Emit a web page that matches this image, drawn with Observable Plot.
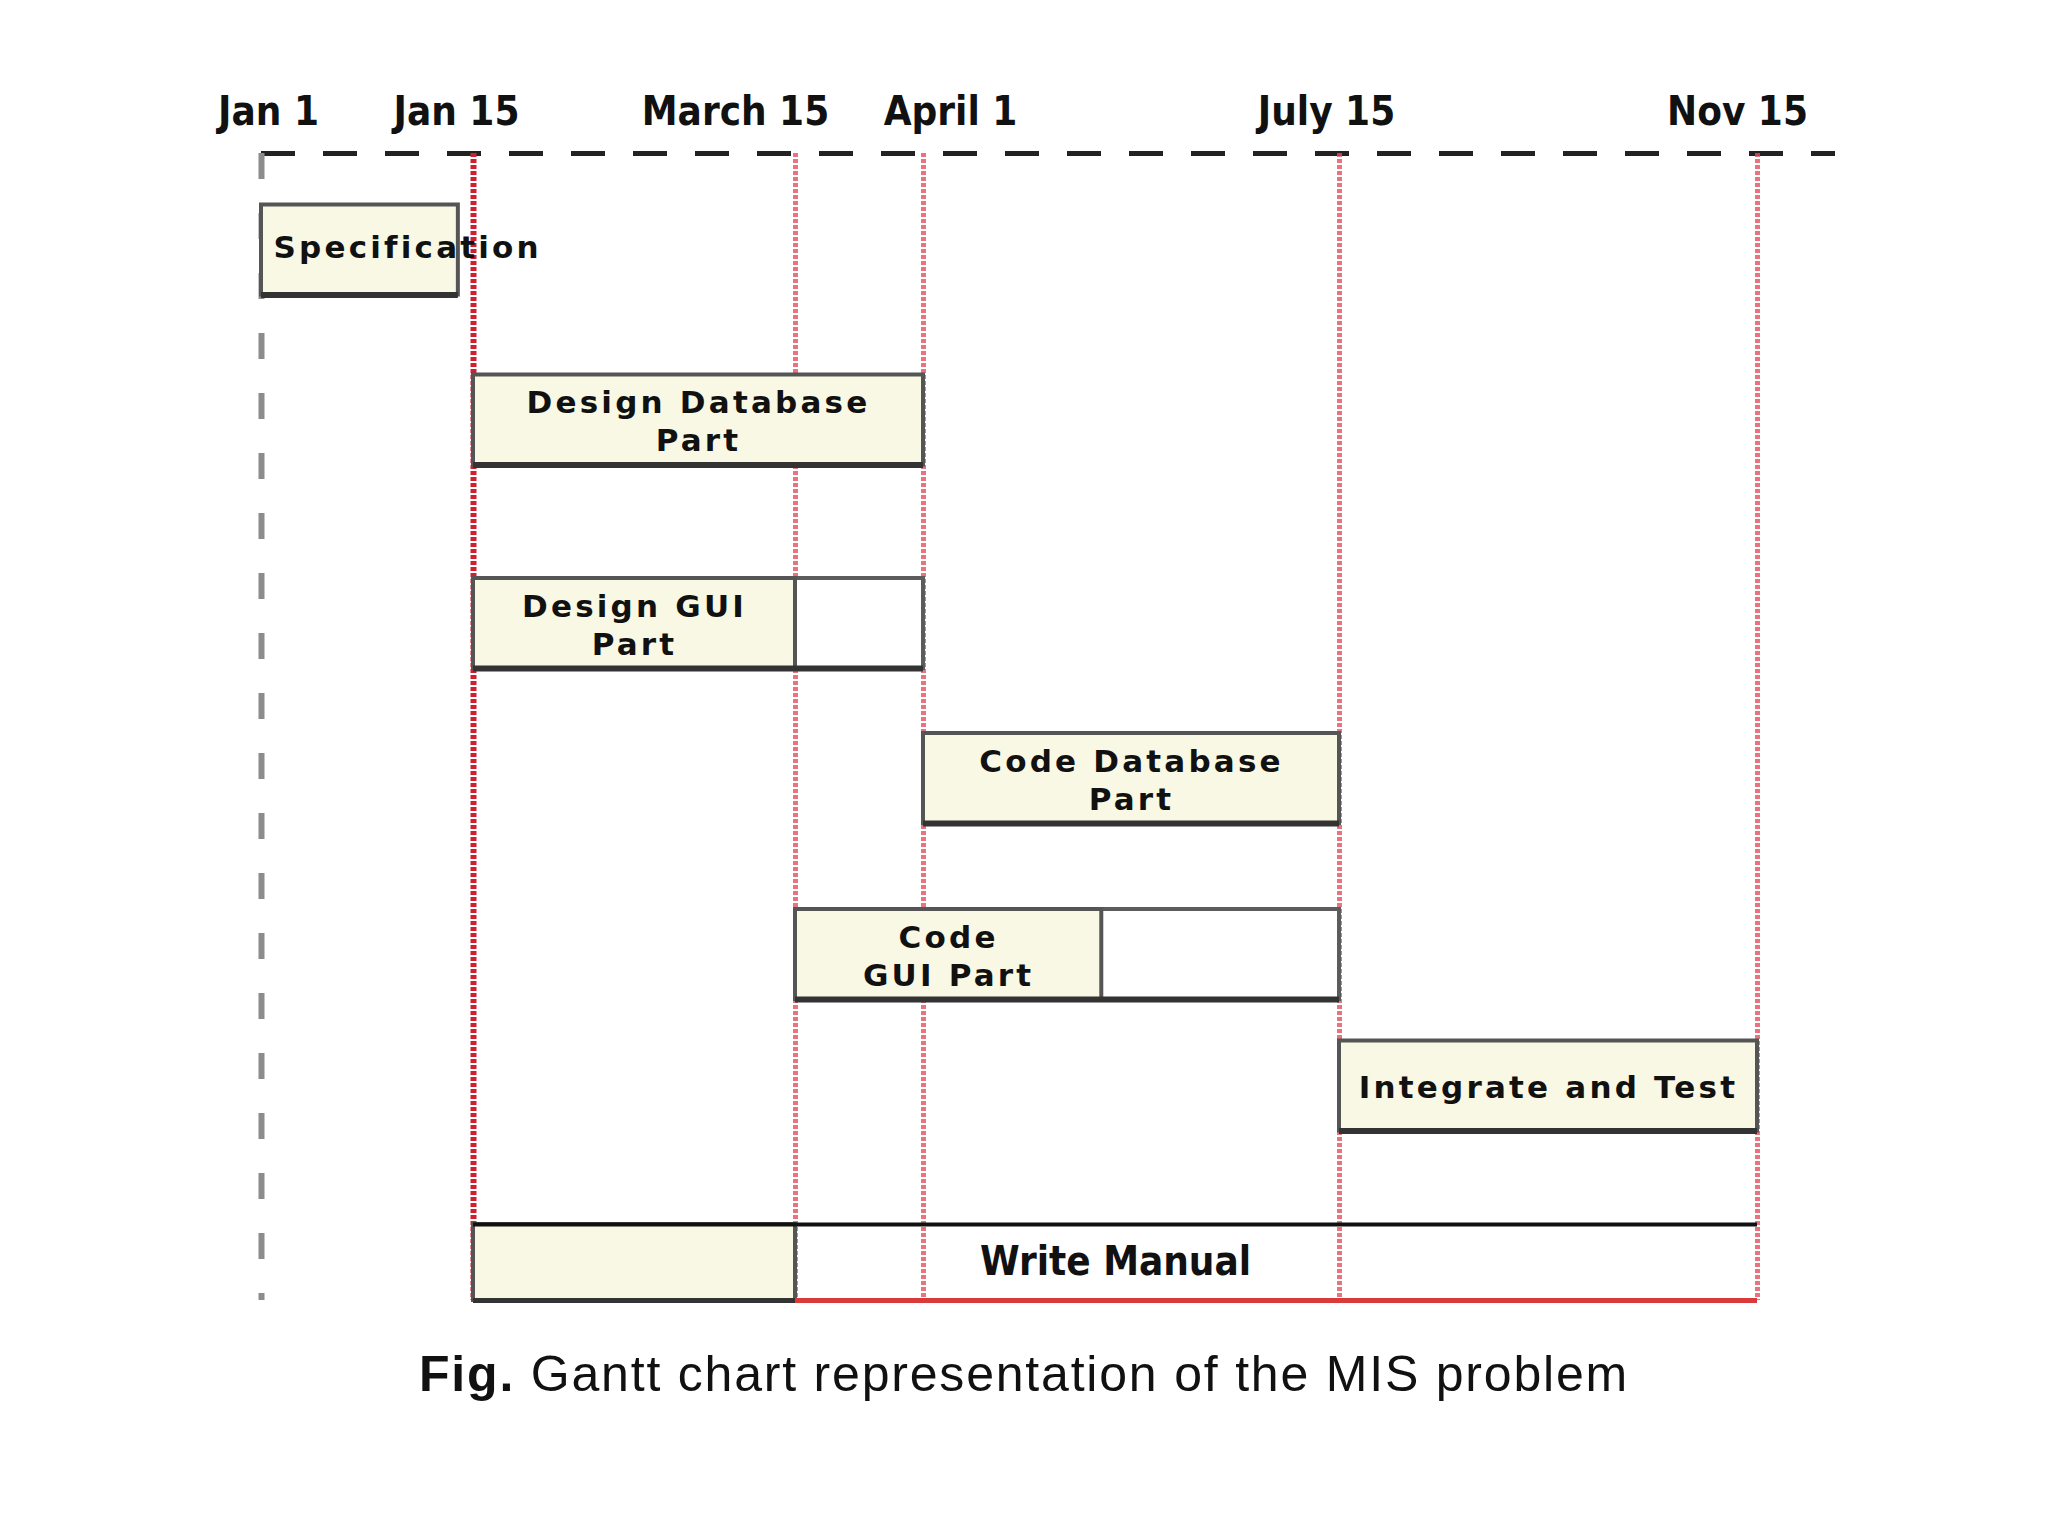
<!DOCTYPE html>
<html><head><meta charset="utf-8">
<script src="https://cdn.jsdelivr.net/npm/d3@7"></script>
<script src="https://cdn.jsdelivr.net/npm/@observablehq/plot@0.6"></script>
<style>
html,body{margin:0;padding:0;background:#fff;}
#chart{width:2048px;}
#chart svg{display:block;}
.caption{font-family:"Liberation Sans",Arial,sans-serif;font-size:50px;letter-spacing:1.8px;line-height:60px;text-align:center;margin-top:14px;color:#111;}
</style></head><body>
<div id="chart"></div>
<div class="caption"><b>Fig.</b> Gantt chart representation of the MIS problem</div>
<script>
// ---- data ----
const milestoneDates = ["2000-01-01","2000-01-15","2000-03-15","2000-04-01","2000-07-15","2000-11-15"];
const milestoneLabels = ["Jan 1","Jan 15","March 15","April 1","July 15","Nov 15"];
const taskNames = ["Specification","Design Database Part","Design GUI Part","Code Database Part","Code GUI Part","Integrate and Test","Write Manual"];
const taskLabels = ["Specification","Design Database\nPart","Design GUI\nPart","Code Database\nPart","Code\nGUI Part","Integrate and Test","Write Manual"];
const taskStart = ["2000-01-01","2000-01-15","2000-01-15","2000-04-01","2000-03-15","2000-07-15","2000-01-15"];
const taskDone  = ["2000-01-14","2000-04-01","2000-03-15","2000-07-15","2000-05-16","2000-11-15","2000-03-15"];
const taskEnd   = ["2000-01-14","2000-04-01","2000-04-01","2000-07-15","2000-07-15","2000-11-15","2000-11-15"];

// ---- layout (scale ranges and label nudges, in pixels) ----
const milestoneX = [261, 473, 795, 923, 1339, 1757];
const tickLabelNudge = [7, -17, -60, 27, -13, -20];
const rowY = [153, 249.5, 419.5, 623, 778, 954, 1085.5, 1262];

const parse = d3.utcParse("%Y-%m-%d");
const milestones = milestoneDates.map(parse);
const xs = Plot.scale({x: {type: "utc", domain: milestones, range: milestoneX}});
const midDate = (a, b) => xs.invert((xs.apply(a) + xs.apply(b)) / 2);

const ticks = milestones.map((d, i) => ({date: d, label: milestoneLabels[i],
  labelX: xs.invert(xs.apply(d) + tickLabelNudge[i])}));

const tasks = taskNames.map((name, i) => {
  const start = parse(taskStart[i]), done = parse(taskDone[i]), end = parse(taskEnd[i]);
  return {name, label: taskLabels[i], row: i + 1, start, done, end,
    labelX: name === "Write Manual" ? midDate(start, end) : midDate(start, done)};
});
const wm = tasks.filter(d => d.name === "Write Manual");
const bars = tasks.filter(d => d.name !== "Write Manual");
const partial = bars.filter(d => +d.done !== +d.end);
const spec = tasks.filter(d => d.name === "Specification");
const centered = bars.filter(d => d.name !== "Specification");

const cream = "#f8f8e4";
const labelFont = {fontFamily: "DejaVu Sans", fontWeight: "bold", fontSize: 31, lineHeight: 1.23, fill: "#111"};
const condFont = {fontFamily: "DejaVu Sans Condensed", fontWeight: "bold", fontSize: 40, fill: "#111"};

const chart = Plot.plot({
  width: 2048,
  height: 1330,
  marginTop: 153,
  marginBottom: 30,
  marginLeft: 261,
  marginRight: 213,
  style: "background: #fff;",
  x: {type: "utc", domain: milestones, range: milestoneX, axis: null},
  y: {type: "linear", domain: d3.range(rowY.length), range: rowY, axis: null},
  marks: [
    // top time axis
    Plot.text(ticks, {x: "labelX", text: "label", frameAnchor: "top", dy: -41, lineAnchor: "middle", ...condFont}),
    Plot.ruleY([0], {stroke: "#222", strokeWidth: 5, strokeDasharray: "34,28"}),
    Plot.ruleX([milestones[0]], {stroke: "#8c8c8c", strokeWidth: 6, strokeDasharray: "26,34"}),
    Plot.ruleX(milestones.slice(2), {stroke: "#e4505e", strokeOpacity: 0.8, strokeWidth: 5, strokeDasharray: "4,2"}),
    Plot.ruleX([milestones[1]], {stroke: "#d21f30", strokeWidth: 6, strokeDasharray: "4,2"}),
    // unfinished windows
    Plot.rect(partial, {x1: "start", x2: "end", y1: "row", y2: "row", insetTop: -45, insetBottom: -45,
      fill: "white", stroke: "#5c5c5c", strokeWidth: 4}),
    // work bars
    Plot.rect(bars, {x1: "start", x2: "done", y1: "row", y2: "row", insetTop: -45, insetBottom: -45,
      fill: cream, stroke: "#555", strokeWidth: 4}),
    Plot.ruleY(bars, {x1: "start", x2: "end", y: "row", dy: 45, stroke: "#333", strokeWidth: 6}),
    // write manual
    Plot.rect(wm, {x1: "start", x2: "done", y1: "row", y2: "row", insetTop: -38, insetBottom: -38,
      fill: cream, stroke: "#555", strokeWidth: 4}),
    Plot.ruleY(wm, {x1: "start", x2: "end", y: "row", dy: -38, stroke: "#111", strokeWidth: 4}),
    Plot.ruleY(wm, {x1: "done", x2: "end", y: "row", dy: 38, stroke: "#d93a3a", strokeWidth: 5}),
    Plot.ruleY(wm, {x1: "start", x2: "done", y: "row", dy: 38, stroke: "#333", strokeWidth: 5}),
    // labels
    Plot.text(centered, {x: "labelX", y: "row", text: "label", ...labelFont}),
    Plot.text(spec, {x: "start", y: "row", text: "label", textAnchor: "start", dx: 12, dy: -4, ...labelFont}),
    Plot.text(wm, {x: "labelX", y: "row", text: "label", ...condFont})
  ]
});
// letter-spaced task labels (wide Verdana-like look of the original)
chart.querySelectorAll('g[font-family="DejaVu Sans"]').forEach(g => g.style.letterSpacing = "3.2px");
document.getElementById("chart").append(chart);
</script>
</body></html>
